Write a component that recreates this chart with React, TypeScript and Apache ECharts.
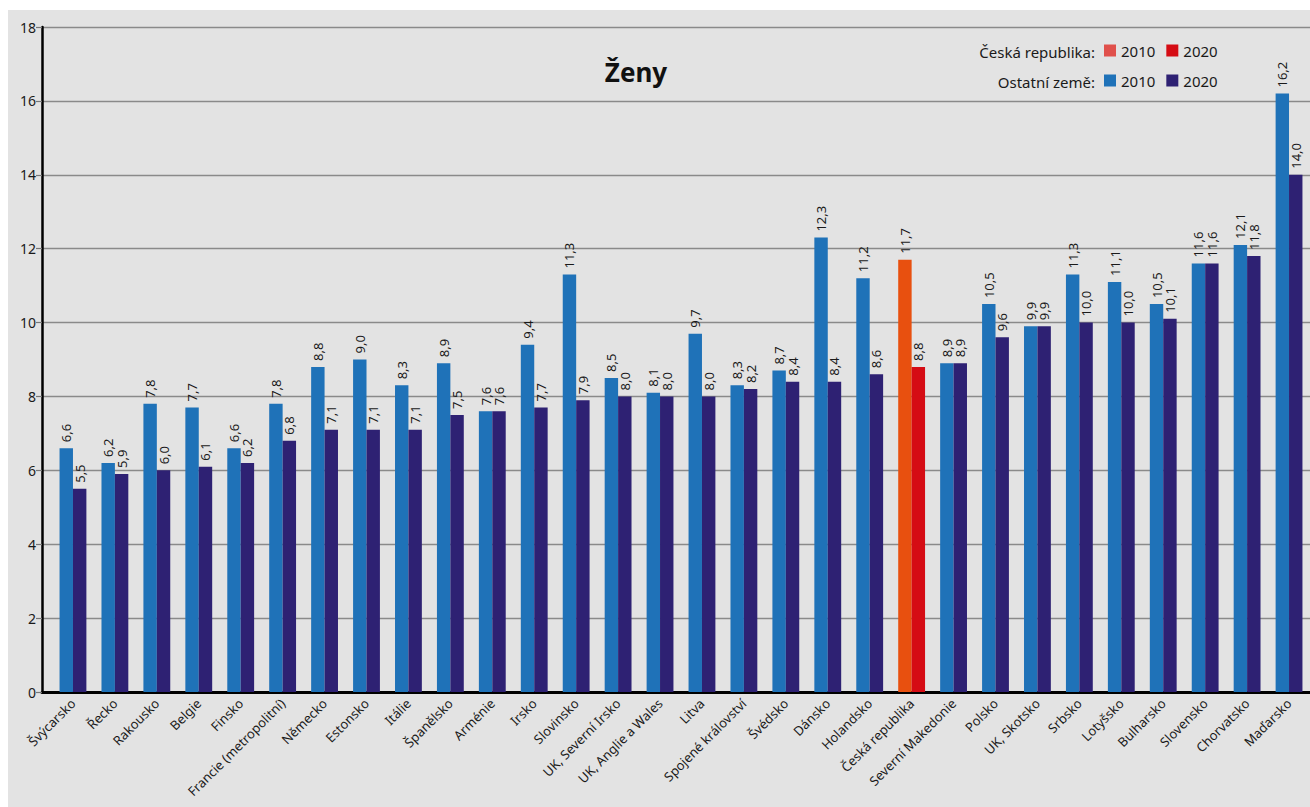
import React, { useEffect, useRef } from "react";
import * as echarts from "echarts";

// Countries, ordered by the 2020 value
const countries = [
  "Švýcarsko", "Řecko", "Rakousko", "Belgie", "Finsko", "Francie (metropolitní)",
  "Německo", "Estonsko", "Itálie", "Španělsko", "Arménie", "Irsko", "Slovinsko",
  "UK, Severní Irsko", "UK, Anglie a Wales", "Litva", "Spojené království", "Švédsko",
  "Dánsko", "Holandsko", "Česká republika", "Severní Makedonie", "Polsko",
  "UK, Skotsko", "Srbsko", "Lotyšsko", "Bulharsko", "Slovensko", "Chorvatsko", "Maďarsko",
];

const values2010 = [
  6.6, 6.2, 7.8, 7.7, 6.6, 7.8, 8.8, 9.0, 8.3, 8.9, 7.6, 9.4, 11.3, 8.5, 8.1,
  9.7, 8.3, 8.7, 12.3, 11.2, 11.7, 8.9, 10.5, 9.9, 11.3, 11.1, 10.5, 11.6, 12.1, 16.2,
];

const values2020 = [
  5.5, 5.9, 6.0, 6.1, 6.2, 6.8, 7.1, 7.1, 7.1, 7.5, 7.6, 7.7, 7.9, 8.0, 8.0,
  8.0, 8.2, 8.4, 8.4, 8.6, 8.8, 8.9, 9.6, 9.9, 10.0, 10.0, 10.1, 11.6, 11.8, 14.0,
];

const yTicks = [0, 2, 4, 6, 8, 10, 12, 14, 16, 18];

const HOME = "Česká republika";
const FONT = "'Noto Sans', sans-serif";
const TEXT = "#1a1a1a";

const COLORS = {
  other2010: "#1f72b8",
  other2020: "#2e2173",
  home2010: "#e8500f",
  home2010Legend: "#e0504b",
  home2020: "#d50c14",
};

const fmt = (v: number) => v.toFixed(1).replace(".", ",");

// Split a series into the "other countries" part and the Czech-only part
const others = (arr: number[]) => arr.map((v, i) => (countries[i] === HOME ? "-" : v));
const home = (arr: number[]) => arr.map((v, i) => (countries[i] === HOME ? v : "-"));

const barLabel = {
  show: true,
  position: "top",
  rotate: 90,
  align: "left",
  verticalAlign: "middle",
  distance: 6,
  fontFamily: FONT,
  fontSize: 13,
  color: TEXT,
  formatter: (p: any) => fmt(Number(p.value)),
};

export default function App() {
  const ref = useRef<HTMLDivElement>(null);

  useEffect(() => {
    if (!ref.current) return;
    const chart = echarts.init(ref.current, null, { renderer: "svg" });

    const barCommon = {
      type: "bar",
      xAxisIndex: 1,
      yAxisIndex: 1,
      barGap: "0%",
      barCategoryGap: "36%",
      label: barLabel,
    };

    chart.setOption({
      animation: false,
      backgroundColor: "transparent",
      textStyle: { fontFamily: FONT },
      grid: [
        { left: 34, right: 0, top: 17, height: 665 },
        { left: 44, width: 1260, top: 17, height: 665 },
      ],
      xAxis: [
        {
          gridIndex: 0,
          type: "value",
          min: 0,
          max: 1,
          position: "bottom",
          axisLine: { show: true, onZero: false, lineStyle: { color: "#000", width: 3 } },
          axisTick: { show: false },
          axisLabel: { show: false },
          splitLine: { show: false },
        },
        {
          gridIndex: 1,
          type: "category",
          data: countries,
          axisLine: { show: false },
          axisTick: { show: false },
          axisLabel: {
            interval: 0,
            rotate: 45,
            margin: 9,
            fontFamily: FONT,
            fontSize: 13,
            color: TEXT,
          },
        },
      ],
      yAxis: [
        {
          gridIndex: 0,
          type: "value",
          min: yTicks[0],
          max: yTicks[yTicks.length - 1],
          interval: yTicks[1] - yTicks[0],
          axisLine: { show: true, lineStyle: { color: "#000", width: 2.5 } },
          axisTick: { show: true, length: 6, lineStyle: { color: "#777", width: 1.2 } },
          axisLabel: { fontFamily: FONT, fontSize: 14, color: TEXT, margin: 6 },
          splitLine: { show: true, lineStyle: { color: "#8a8a8a", width: 1.3 } },
        },
        {
          gridIndex: 1,
          type: "value",
          min: yTicks[0],
          max: yTicks[yTicks.length - 1],
          show: false,
          splitLine: { show: false },
        },
      ],
      legend: [
        {
          selectedMode: false,
          left: 1096,
          top: 33,
          padding: 0,
          itemWidth: 12,
          itemHeight: 12,
          itemGap: 11,
          icon: "rect",
          textStyle: { fontFamily: FONT, fontSize: 15, color: TEXT },
          formatter: (n: string) => n.slice(-4),
          data: [
            { name: `${HOME} 2010`, itemStyle: { color: COLORS.home2010Legend } },
            { name: `${HOME} 2020` },
          ],
        },
        {
          selectedMode: false,
          left: 1096,
          top: 63,
          padding: 0,
          itemWidth: 12,
          itemHeight: 12,
          itemGap: 11,
          icon: "rect",
          textStyle: { fontFamily: FONT, fontSize: 15, color: TEXT },
          formatter: (n: string) => n.slice(-4),
          data: ["Ostatní země 2010", "Ostatní země 2020"],
        },
      ],
      graphic: [
        {
          type: "text",
          x: 628,
          y: 62,
          style: {
            text: "Ženy",
            font: `bold 26px ${FONT}`,
            fill: "#111",
            textAlign: "center",
            textVerticalAlign: "middle",
          },
        },
        {
          type: "text",
          x: 1087,
          y: 42,
          style: {
            text: "Česká republika:",
            font: `15px ${FONT}`,
            fill: TEXT,
            textAlign: "right",
            textVerticalAlign: "middle",
          },
        },
        {
          type: "text",
          x: 1087,
          y: 72,
          style: {
            text: "Ostatní země:",
            font: `15px ${FONT}`,
            fill: TEXT,
            textAlign: "right",
            textVerticalAlign: "middle",
          },
        },
      ],
      series: [
        {
          ...barCommon,
          name: "Ostatní země 2010",
          stack: "y2010",
          itemStyle: { color: COLORS.other2010 },
          data: others(values2010),
        },
        {
          ...barCommon,
          name: `${HOME} 2010`,
          stack: "y2010",
          itemStyle: { color: COLORS.home2010 },
          data: home(values2010),
        },
        {
          ...barCommon,
          name: "Ostatní země 2020",
          stack: "y2020",
          itemStyle: { color: COLORS.other2020 },
          data: others(values2020),
        },
        {
          ...barCommon,
          name: `${HOME} 2020`,
          stack: "y2020",
          itemStyle: { color: COLORS.home2020 },
          data: home(values2020),
        },
      ],
    });

    return () => chart.dispose();
  }, []);

  return (
    <div
      ref={ref}
      style={{
        position: "fixed",
        left: 8,
        top: 10,
        width: 1302,
        height: 797,
        background: "#e3e3e3",
      }}
    />
  );
}
